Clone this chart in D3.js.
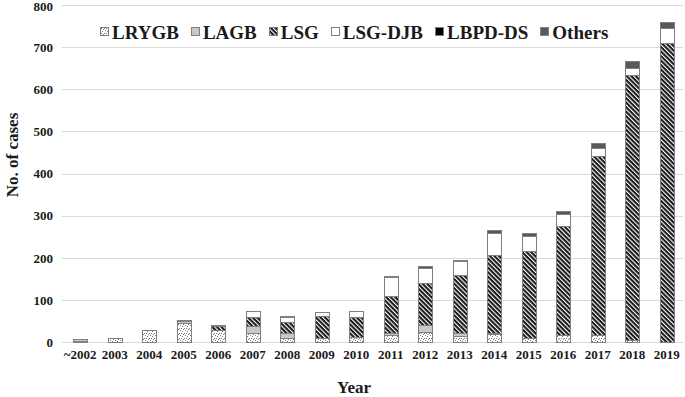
<!DOCTYPE html>
<meta charset="utf-8">
<style>
    body { margin: 0; background: #fff; }
    text { font-family: "Times New Roman", "Liberation Serif", serif; font-weight: bold; fill: #1a1a1a; }
    .grid line { stroke: #d9d9d9; stroke-width: 1px; shape-rendering: crispEdges; }
    .seg { stroke: #808080; stroke-width: 1px; shape-rendering: crispEdges; }
</style>
<svg width="685" height="397"></svg>
<script src="https://cdn.jsdelivr.net/npm/d3@7"></script>
<script>
    // categories and series
    const years = ["~2002", "2003", "2004", "2005", "2006", "2007", "2008", "2009", "2010",
        "2011", "2012", "2013", "2014", "2015", "2016", "2017", "2018", "2019"];
    const lrygb  = [3, 9, 27, 44, 28, 20, 8, 8, 11, 17, 23, 13, 18, 9, 15, 17, 5, 0];
    const lagb   = [3, 0, 0, 5, 0, 17, 12, 2, 0, 4, 16, 9, 3, 0, 0, 0, 0, 0];
    const lsg    = [0, 0, 0, 0, 10, 21, 26, 51, 49, 87, 101, 137, 185, 206, 260, 424, 627, 709];
    const lsgDjb = [0, 0, 0, 0, 0, 14, 12, 9, 14, 45, 36, 33, 53, 36, 29, 18, 17, 36];
    const lbpdDs = [1, 0, 0, 3, 0, 0, 0, 0, 0, 0, 0, 0, 0, 0, 0, 0, 0, 0];
    const others = [0, 0, 0, 0, 3, 0, 3, 0, 0, 4, 4, 1, 5, 8, 6, 12, 16, 13];
    const seriesNames = ["LRYGB", "LAGB", "LSG", "LSG-DJB", "LBPD-DS", "Others"];
    const yTicks = [0, 100, 200, 300, 400, 500, 600, 700, 800];

    const seriesValues = [lrygb, lagb, lsg, lsgDjb, lbpdDs, others];
    const table = years.map((yr, i) => {
        const row = { year: yr };
        seriesNames.forEach((k, j) => row[k] = seriesValues[j][i]);
        return row;
    });

    const svg = d3.select("svg");
    const defs = svg.append("defs");

    // dotted fill for LRYGB
    const dots = defs.append("pattern").attr("id", "dots")
        .attr("patternUnits", "userSpaceOnUse").attr("width", 5).attr("height", 5);
    dots.append("rect").attr("width", 5).attr("height", 5).attr("fill", "#fff");
    [[0, 0], [2, 1], [4, 3], [1, 3], [3, 4]].forEach(p => {
        dots.append("rect").attr("x", p[0]).attr("y", p[1]).attr("width", 1).attr("height", 1).attr("fill", "#7a7a7a");
    });

    // diagonal hatch for LSG
    const hatch = defs.append("pattern").attr("id", "hatch")
        .attr("patternUnits", "userSpaceOnUse").attr("width", 3.2).attr("height", 3.2)
        .attr("patternTransform", "rotate(-45)");
    hatch.append("rect").attr("width", 3.2).attr("height", 3.2).attr("fill", "#1a1a1a");
    hatch.append("rect").attr("x", 0).attr("y", 0).attr("width", 1.1).attr("height", 3.2).attr("fill", "#fff");

    const fills = {
        "LRYGB": "url(#dots)",
        "LAGB": "#c8c8c8",
        "LSG": "url(#hatch)",
        "LSG-DJB": "#ffffff",
        "LBPD-DS": "#000000",
        "Others": "#595959"
    };

    const x = d3.scaleBand().domain(years).range([63, 684]).paddingInner(0.6).paddingOuter(0.3);
    const y = d3.scaleLinear().domain([0, 800]).range([342.3, 5]);

    // gridlines + y tick labels
    const grid = svg.append("g").attr("class", "grid");
    grid.selectAll("line").data(yTicks).enter().append("line")
        .attr("x1", 62).attr("x2", 683)
        .attr("y1", d => Math.round(y(d)) + 0.5).attr("y2", d => Math.round(y(d)) + 0.5);

    svg.append("g").selectAll("text").data(yTicks).enter().append("text")
        .attr("x", 53).attr("y", d => Math.max(y(d), 6.5)).attr("dy", "0.35em")
        .attr("text-anchor", "end").style("font-size", "13px")
        .text(d => d);

    // stacked bars
    const stack = d3.stack().keys(seriesNames)(table);
    const layer = svg.append("g").selectAll("g").data(stack).enter().append("g")
        .attr("fill", d => fills[d.key]);
    layer.selectAll("rect").data(d => d.filter(p => p[1] > p[0])).enter().append("rect")
        .attr("class", "seg")
        .attr("x", d => Math.round(x(d.data.year)) + 0.5)
        .attr("width", Math.round(x.bandwidth()))
        .attr("y", d => y(d[1]))
        .attr("height", d => y(d[0]) - y(d[1]));

    // x tick labels
    svg.append("g").selectAll("text").data(years).enter().append("text")
        .attr("x", d => x(d) + x.bandwidth() / 2).attr("y", 359)
        .attr("text-anchor", "middle").style("font-size", "13px")
        .text(d => d);

    // axis titles
    svg.append("text").attr("x", 354).attr("y", 393).attr("text-anchor", "middle")
        .style("font-size", "17px").text("Year");
    svg.append("text").attr("transform", "translate(18,155) rotate(-90)").attr("text-anchor", "middle")
        .style("font-size", "17px").text("No. of cases");

    // legend
    const legend = svg.append("g");
    let lx = 100;
    seriesNames.forEach(name => {
        legend.append("rect").attr("class", "seg")
            .attr("x", lx + 0.5).attr("y", 27.5).attr("width", 8).attr("height", 8)
            .attr("fill", fills[name]);
        const t = legend.append("text").attr("x", lx + 12).attr("y", 38.5)
            .style("font-size", "19px").text(name);
        lx += 12 + t.node().getComputedTextLength() + 12;
    });
</script>
